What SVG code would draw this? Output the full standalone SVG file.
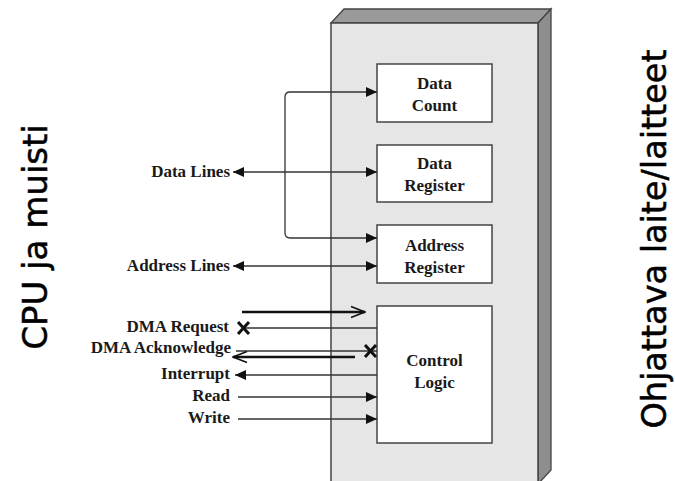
<svg xmlns="http://www.w3.org/2000/svg" width="675" height="481" viewBox="0 0 675 481">
<defs>
<style>
.lbl{font-family:"Liberation Serif","Times New Roman",serif;font-weight:bold;font-size:17px;fill:#1a1a1a}
.box{fill:#fff;stroke:#444;stroke-width:1.5}
.ln{stroke:#333;stroke-width:1.3;fill:none}
.thk{stroke:#111;stroke-width:2.6;fill:none}
.side{font-family:"DejaVu Sans","Noto Sans",sans-serif;font-size:34px;fill:#000;stroke:#000;stroke-width:0.5}
</style>
<marker id="ah" markerUnits="userSpaceOnUse" markerWidth="11" markerHeight="10" refX="11" refY="5" orient="auto-start-reverse">
<path d="M0,0 L11,5 L0,10 z" fill="#111"/>
</marker>
<marker id="oh" markerUnits="userSpaceOnUse" markerWidth="16" markerHeight="14" refX="15" refY="7" orient="auto-start-reverse">
<path d="M1,1.5 L15,7 L1,12.5" fill="none" stroke="#111" stroke-width="1.6"/>
</marker>
</defs>
<rect width="675" height="481" fill="#fff"/>
<g id="panel">
<polygon points="331,23 344,9 551,9 538,23" fill="#9a9a9a" stroke="#444" stroke-width="1.3"/>
<polygon points="538,23 551,9 551,470 538,484" fill="#8e8e8e" stroke="#444" stroke-width="1.3"/>
<rect x="331" y="23" width="207" height="470" fill="#e6e6e6" stroke="#444" stroke-width="1.5"/>
</g>
<g id="data-count"><rect class="box" x="377" y="64" width="115" height="58"/><text class="lbl" x="434.5" y="89" text-anchor="middle">Data</text><text class="lbl" x="434.5" y="111" text-anchor="middle">Count</text></g>
<g id="data-register"><rect class="box" x="377" y="145" width="115" height="57"/><text class="lbl" x="434.5" y="169" text-anchor="middle">Data</text><text class="lbl" x="434.5" y="191" text-anchor="middle">Register</text></g>
<g id="address-register"><rect class="box" x="377" y="225" width="115" height="58"/><text class="lbl" x="434.5" y="251" text-anchor="middle">Address</text><text class="lbl" x="434.5" y="273" text-anchor="middle">Register</text></g>
<g id="control-logic"><rect class="box" x="377" y="306" width="115" height="137"/><text class="lbl" x="434.5" y="366" text-anchor="middle">Control</text><text class="lbl" x="434.5" y="388" text-anchor="middle">Logic</text></g>
<g id="labels">
<text class="lbl" x="230" y="177" text-anchor="end">Data Lines</text>
<text class="lbl" x="230" y="271" text-anchor="end">Address Lines</text>
<text class="lbl" x="229" y="332" text-anchor="end">DMA Request</text>
<text class="lbl" x="231" y="353" text-anchor="end">DMA Acknowledge</text>
<text class="lbl" x="230" y="379" text-anchor="end">Interrupt</text>
<text class="lbl" x="230" y="401" text-anchor="end">Read</text>
<text class="lbl" x="230" y="423" text-anchor="end">Write</text>
</g>
<g id="cpu-side"><text class="side" transform="translate(47,237) rotate(-90)" text-anchor="middle">CPU ja muisti</text></g>
<g id="device-side"><text class="side" transform="translate(666,239) rotate(-90)" text-anchor="middle" style="font-size:33.5px">Ohjattava laite/laitteet</text></g>
<g id="connectors">
<path class="ln" d="M377,92 L290,92 Q285,92 285,97 L285,233 Q285,238 290,238 L377,238" marker-start="url(#ah)" marker-end="url(#ah)"/>
<line class="ln" x1="233" y1="172" x2="377" y2="172" marker-start="url(#ah)" marker-end="url(#ah)"/>
<line class="ln" x1="233" y1="266" x2="377" y2="266" marker-start="url(#ah)" marker-end="url(#ah)"/>
<line class="thk" x1="242" y1="312" x2="365" y2="312" marker-end="url(#oh)"/>
<line class="ln" x1="243" y1="328" x2="377" y2="328"/>
<path d="M238,322 L249,334 M238,334 L249,322" stroke="#111" stroke-width="3" fill="none"/>
<line class="ln" x1="236" y1="351" x2="377" y2="351"/>
<path d="M365,345 L376,357 M365,357 L376,345" stroke="#111" stroke-width="3" fill="none"/>
<line class="thk" x1="355" y1="357" x2="233" y2="357" marker-end="url(#oh)"/>
<line class="ln" x1="377" y1="375" x2="235" y2="375" marker-end="url(#ah)"/>
<line class="ln" x1="238" y1="397" x2="377" y2="397" marker-end="url(#ah)"/>
<line class="ln" x1="238" y1="419" x2="377" y2="419" marker-end="url(#ah)"/>
</g>
</svg>
